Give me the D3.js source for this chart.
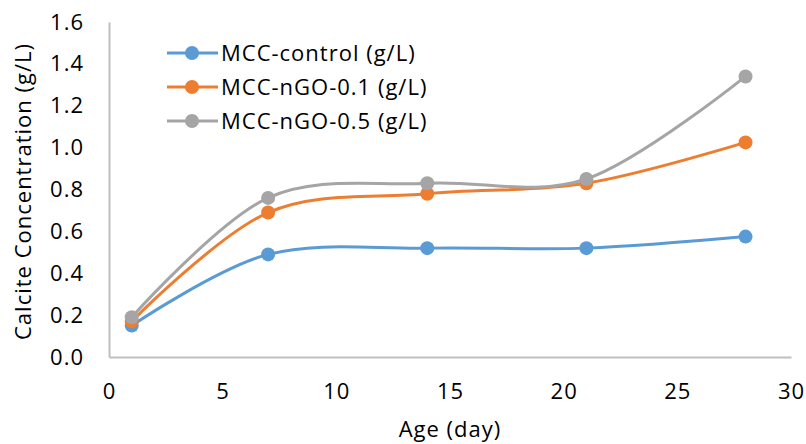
<!DOCTYPE html>
<html>
<head>
<meta charset="utf-8">
<script src="https://cdn.jsdelivr.net/npm/d3@7"></script>
<style>
  body { margin: 0; background: #fff; }
  text { font-family: "Open Sans", sans-serif; fill: #000; letter-spacing: 1px; }
</style>
</head>
<body>
<div id="chart"></div>
<script>
//
// DATA
//
const days = [1, 7, 14, 21, 28]
const seriesNames = ['MCC-control (g/L)', 'MCC-nGO-0.1 (g/L)', 'MCC-nGO-0.5 (g/L)']
const controlValues = [0.15, 0.49, 0.52, 0.52, 0.575]
const nGO01Values = [0.17, 0.69, 0.78, 0.83, 1.025]
const nGO05Values = [0.19, 0.76, 0.83, 0.85, 1.34]
const xTicks = [0, 5, 10, 15, 20, 25, 30]
const yTicks = [0, 0.2, 0.4, 0.6, 0.8, 1.0, 1.2, 1.4, 1.6]
const colors = ['#5B9BD5', '#ED7D31', '#A5A5A5']

const width = 806
const height = 444
const margin = { top: 22, right: 15, bottom: 87, left: 109 }
const font = '"Open Sans", sans-serif'
const fontSize = '22px'

const svg = d3.select('#chart').append('svg')
    .attr('width', width)
    .attr('height', height)

const x = d3.scaleLinear().domain([0, 30]).range([margin.left, width - margin.right])
const y = d3.scaleLinear().domain([0, 1.6]).range([height - margin.bottom, margin.top])

// axes (no tick marks, light grey lines)
const xAxis = svg.append('g')
    .attr('transform', `translate(0,${y(0)})`)
    .call(d3.axisBottom(x).tickValues(xTicks).tickSize(0).tickPadding(26).tickFormat(d3.format('d')))
const yAxis = svg.append('g')
    .attr('transform', `translate(${x(0)},0)`)
    .call(d3.axisLeft(y).tickValues(yTicks).tickSize(0).tickPadding(25).tickFormat(d3.format('.1f')))

for (const ax of [xAxis, yAxis]) {
    ax.select('.domain').attr('stroke', '#bfbfbf').attr('stroke-width', 2)
    ax.selectAll('text').style('font-size', fontSize).style('font-family', font)
}

// axis titles
svg.append('text')
    .attr('x', (x(0) + x(30)) / 2)
    .attr('y', 437)
    .attr('text-anchor', 'middle')
    .style('font-size', fontSize)
    .text('Age (day)')

svg.append('text')
    .attr('transform', `translate(31,${(y(0) + y(1.6)) / 2 + 2}) rotate(-90)`)
    .attr('text-anchor', 'middle')
    .style('font-size', fontSize)
    .text('Calcite Concentration (g/L)')

// series
const allSeries = [controlValues, nGO01Values, nGO05Values].map((vals, i) => ({
    name: seriesNames[i],
    color: colors[i],
    points: days.map((d, j) => ({ day: d, value: vals[j] }))
}))

const line = d3.line()
    .x(d => x(d.day))
    .y(d => y(d.value))
    .curve(d3.curveCardinal.tension(0))

const seriesGroup = svg.append('g')
for (const s of allSeries) {
    const g = seriesGroup.append('g')
    g.append('path')
        .attr('d', line(s.points))
        .attr('fill', 'none')
        .attr('stroke', s.color)
        .attr('stroke-width', 3)
        .attr('stroke-linecap', 'round')
    g.selectAll('circle')
        .data(s.points)
        .join('circle')
        .attr('cx', d => x(d.day))
        .attr('cy', d => y(d.value))
        .attr('r', 7)
        .attr('fill', s.color)
}

// legend
const legend = svg.append('g').attr('transform', 'translate(167,53)')
allSeries.forEach((s, i) => {
    const row = legend.append('g').attr('transform', `translate(0,${i * 34})`)
    row.append('line')
        .attr('x1', 0).attr('x2', 51)
        .attr('y1', 0).attr('y2', 0)
        .attr('stroke', s.color)
        .attr('stroke-width', 3)
    row.append('circle').attr('cx', 25).attr('cy', 0).attr('r', 7).attr('fill', s.color)
    row.append('text')
        .attr('x', 54)
        .attr('y', 8)
        .style('font-size', fontSize)
        .text(s.name)
})
</script>
</body>
</html>
